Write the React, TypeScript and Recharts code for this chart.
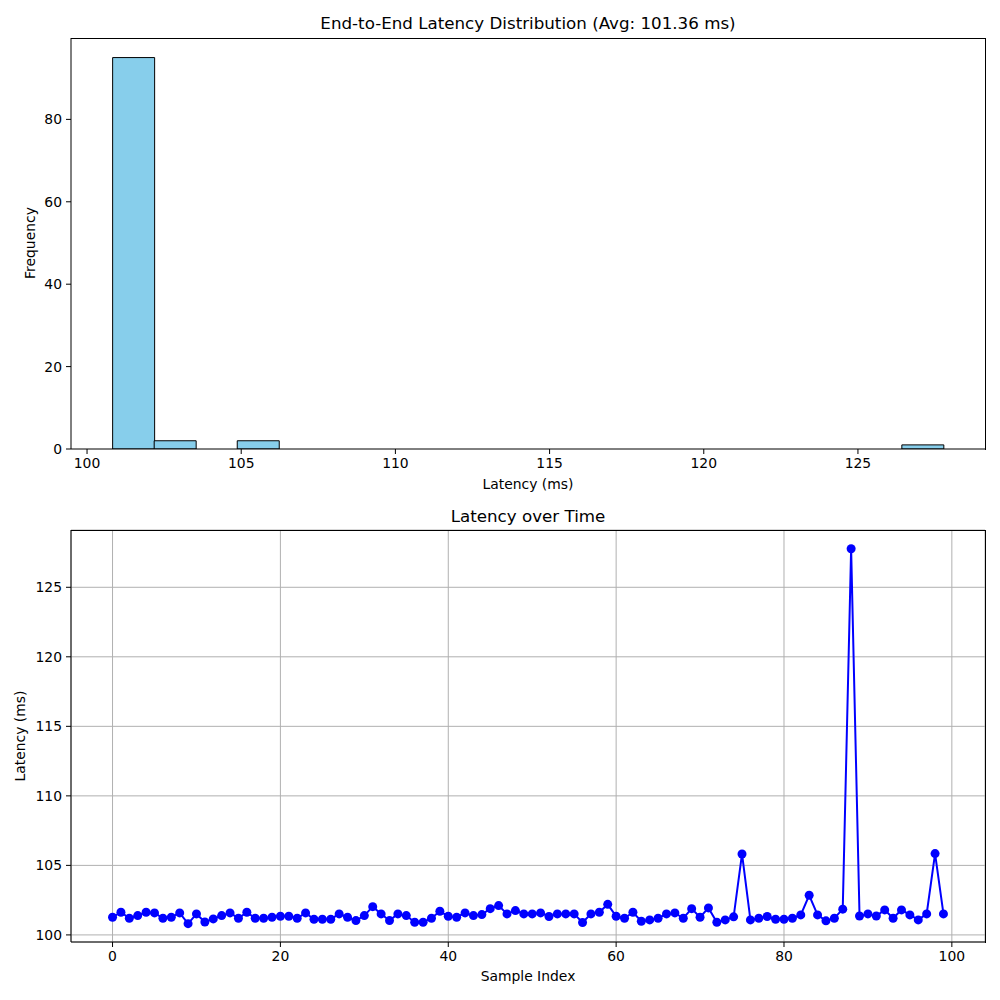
import React from 'react';
import {
  BarChart, Bar, LineChart, Line, XAxis, YAxis, CartesianGrid,
} from 'recharts';

// ---- Histogram data ----
const binStart = 100.83;
const binWidth = 1.347;
const binCounts = [95, 2, 0, 2, 0, 0, 0, 0, 0, 0, 0, 0, 0, 0, 0, 0, 0, 0, 0, 1];
const histXTicks = [100, 105, 110, 115, 120, 125];
const histYTicks = [0, 20, 40, 60, 80];

// ---- Time series data ----
const latencies = [
  101.27, 101.63, 101.20, 101.39, 101.63, 101.58, 101.20, 101.27, 101.58, 100.81,
  101.51, 100.93, 101.15, 101.39, 101.58, 101.20, 101.63, 101.20, 101.20, 101.27,
  101.34, 101.34, 101.20, 101.58, 101.13, 101.13, 101.13, 101.51, 101.27, 101.03,
  101.39, 102.03, 101.51, 101.03, 101.51, 101.39, 100.91, 100.91, 101.20, 101.70,
  101.34, 101.27, 101.58, 101.39, 101.46, 101.89, 102.11, 101.51, 101.75, 101.51,
  101.51, 101.58, 101.32, 101.51, 101.51, 101.51, 100.89, 101.51, 101.63, 102.20,
  101.34, 101.20, 101.63, 100.98, 101.08, 101.20, 101.51, 101.58, 101.20, 101.89,
  101.27, 101.94, 100.91, 101.08, 101.30, 105.82, 101.08, 101.20, 101.32, 101.13,
  101.13, 101.20, 101.44, 102.85, 101.44, 101.01, 101.20, 101.85, 127.77, 101.36,
  101.51, 101.36, 101.80, 101.20, 101.80, 101.44, 101.08, 101.51, 105.85, 101.51,
];
const lineXTicks = [0, 20, 40, 60, 80, 100];
const lineYTicks = [100, 105, 110, 115, 120, 125];

const histData = binCounts.map((count, i) => ({
  center: binStart + binWidth * (i + 0.5),
  count,
}));
const lineData = latencies.map((v, i) => ({ index: i, latency: v }));

const FONT = '"DejaVu Sans", sans-serif';
const tickStyle = { fill: '#000', fontSize: 13.9, fontFamily: FONT };

const absText = (
  text: string, cx: number, cy: number, size: number, rotate = false,
) => (
  <div
    style={{
      position: 'absolute',
      left: cx,
      top: cy,
      transform: `translate(-50%, -50%)${rotate ? ' rotate(-90deg)' : ''}`,
      fontFamily: FONT,
      fontSize: size,
      color: '#000',
      whiteSpace: 'nowrap',
      lineHeight: 1,
    }}
  >
    {text}
  </div>
);

const frame = (left: number, top: number, width: number, height: number) => (
  <div
    style={{
      position: 'absolute',
      left: left - 0.5,
      top: top - 0.5,
      width,
      height,
      borderTop: '1px solid #000',
      borderRight: '1px solid #000',
      pointerEvents: 'none',
    }}
  />
);

export default function App() {
  return (
    <div
      style={{
        position: 'absolute', left: 0, top: 0, width: 1000, height: 1000,
        background: '#fff', fontFamily: FONT,
      }}
    >
      <div style={{ position: 'absolute', left: 0, top: 0 }}>
        <BarChart
          width={1000}
          height={500}
          data={histData}
          margin={{ top: 38, right: 15, bottom: 0, left: 0 }}
          barCategoryGap={0}
          barGap={0}
        >
          <XAxis
            type="number"
            dataKey="center"
            domain={[99.48, 129.12]}
            ticks={histXTicks}
            allowDataOverflow
            height={51}
            tickSize={5}
            tickMargin={4}
            tick={tickStyle}
            tickLine={{ stroke: '#000' }}
            axisLine={{ stroke: '#000' }}
          />
          <YAxis
            type="number"
            domain={[0, 99.75]}
            ticks={histYTicks}
            allowDataOverflow
            width={71}
            tickSize={5}
            tickMargin={4}
            tick={tickStyle}
            tickLine={{ stroke: '#000' }}
            axisLine={{ stroke: '#000' }}
          />
          <Bar
            dataKey="count"
            fill="#87CEEB"
            stroke="#000"
            strokeWidth={1}
            isAnimationActive={false}
          />
        </BarChart>
      </div>

      <div style={{ position: 'absolute', left: 0, top: 500 }}>
        <LineChart
          width={1000}
          height={500}
          data={lineData}
          margin={{ top: 30, right: 15, bottom: 0, left: 0 }}
        >
          <CartesianGrid stroke="#b0b0b0" strokeWidth={1} />
          <XAxis
            type="number"
            dataKey="index"
            domain={[-4.95, 103.95]}
            ticks={lineXTicks}
            allowDataOverflow
            height={58}
            tickSize={5}
            tickMargin={4}
            tick={tickStyle}
            tickLine={{ stroke: '#000' }}
            axisLine={{ stroke: '#000' }}
          />
          <YAxis
            type="number"
            domain={[99.49, 129.12]}
            ticks={lineYTicks}
            allowDataOverflow
            width={71}
            tickSize={5}
            tickMargin={4}
            tick={tickStyle}
            tickLine={{ stroke: '#000' }}
            axisLine={{ stroke: '#000' }}
          />
          <Line
            type="linear"
            dataKey="latency"
            stroke="#0000ff"
            strokeWidth={2}
            dot={{ r: 4.5, fill: '#0000ff', stroke: 'none' }}
            activeDot={false}
            isAnimationActive={false}
          />
        </LineChart>
      </div>

      {frame(71, 38, 914, 411)}
      {frame(71, 530, 914, 412)}

      {absText('End-to-End Latency Distribution (Avg: 101.36 ms)', 528, 23, 16.7)}
      {absText('Latency (ms)', 528, 485, 13.9)}
      {absText('Frequency', 31, 243, 13.9, true)}
      {absText('Latency over Time', 528, 516, 16.7)}
      {absText('Sample Index', 528, 977, 13.9)}
      {absText('Latency (ms)', 21, 736, 13.9, true)}
    </div>
  );
}
